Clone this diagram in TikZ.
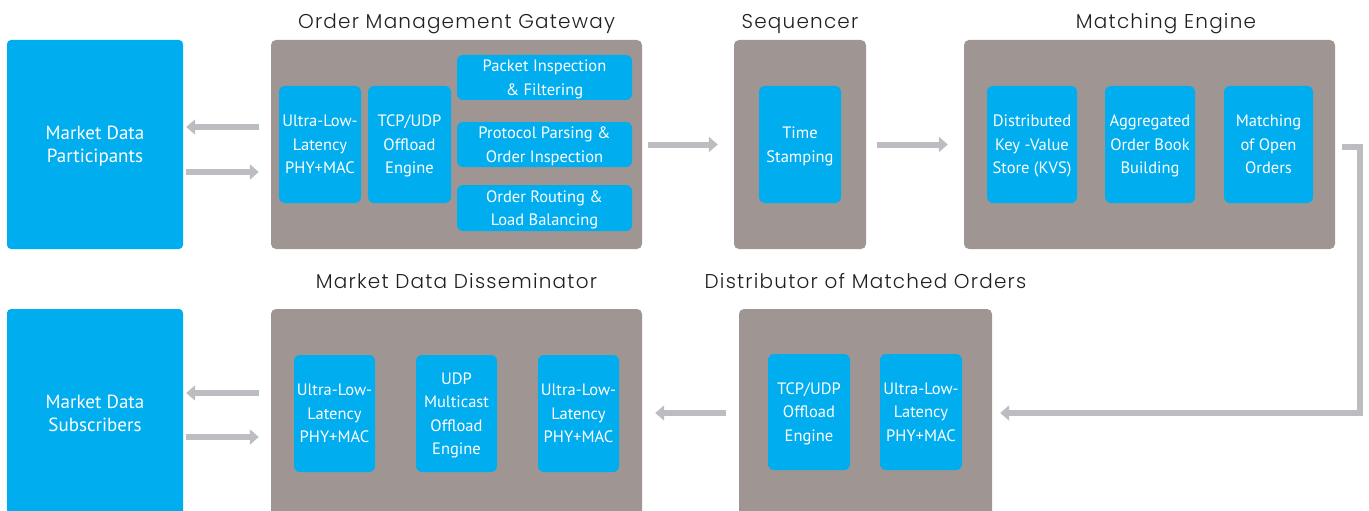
\documentclass[tikz,border=0pt]{standalone}
\usepackage{fontspec}
\usepackage{tikz}
\usetikzlibrary{arrows.meta,positioning}
\newfontfamily\labelfont{PT Sans}
\newfontfamily\headfont{Poppins Light}[LetterSpace=6]
\definecolor{mdblue}{HTML}{00ADEE}
\definecolor{stagegray}{HTML}{9F9693}
\definecolor{flowgray}{HTML}{BCBDC1}
\definecolor{headtext}{HTML}{231F20}

\begin{document}
\begin{tikzpicture}[x=1pt,y=-1pt,
        stage/.style={fill=stagegray,rounded corners=5pt,inner sep=0pt},
        party/.style={fill=mdblue,rounded corners=4pt,text=white,align=center,inner sep=0pt,
            minimum width=176pt,text depth=-8pt,font=\labelfont\fontsize{19}{23}\selectfont},
        unit/.style={fill=mdblue,rounded corners=6pt,text=white,align=center,inner sep=0pt,
            minimum width=82pt,minimum height=117pt,text depth=-7pt,font=\labelfont\fontsize{16.5}{23.5}\selectfont},
        bar/.style={unit,minimum width=175pt,minimum height=45pt},
        head/.style={anchor=base,text=headtext,font=\headfont\fontsize{20}{24}\selectfont},
        flow/.style={draw=flowgray,line width=6pt,-{Triangle[length=9pt,width=15pt]}}]
        \useasboundingbox (0,0) rectangle (1369,511);
        \clip (0,0) rectangle (1369,511);

        \node[party,minimum height=209pt] (part) at (95,144.5) {Market Data\\Participants};
        \node[party,minimum height=208pt] (subs) at (95,413) {Market Data\\Subscribers};

        \node[stage,minimum width=371pt,minimum height=209pt] (omg) at (456.5,144.5) {};
        \node[stage,minimum width=132pt,minimum height=209pt] (seq) at (800,144.5) {};
        \node[stage,minimum width=371pt,minimum height=209pt] (me) at (1149.5,144.5) {};
        \node[stage,minimum width=371pt,minimum height=208pt] (diss) at (456.5,413) {};
        \node[stage,minimum width=253pt,minimum height=208pt] (dist) at (865.5,413) {};

        \node[head] (omgtitle) at ([yshift=11pt]omg.north) {Order Management Gateway};
        \node[head] (seqtitle) at ([yshift=11pt]seq.north) {Sequencer};
        \node[head] (metitle) at ([xshift=16.5pt,yshift=11pt]me.north) {Matching Engine};
        \node[head] (disstitle) at ([yshift=20pt]diss.north) {Market Data Disseminator};
        \node[head] (disttitle) at ([yshift=20pt]dist.north) {Distributor of Matched Orders};

        \node[unit] (ull1) at (320,144.5) {Ultra-Low-\\Latency\\PHY+MAC};
        \node[unit,minimum width=83pt] (tcp1) at (409.5,144.5) {TCP/UDP\\Offload\\Engine};
        \node[bar] (pkt) at (544.5,77.5) {Packet Inspection\\\& Filtering};
        \node[bar] (prs) at (544.5,144.5) {Protocol Parsing \&\\Order Inspection};
        \node[bar,minimum height=46pt] (rte) at (544.5,208) {Order Routing \&\\Load Balancing};

        \node[unit] (tms) at (800,144.5) {Time\\Stamping};

        \node[unit,minimum width=90pt] (kvs) at (1032,144.5) {Distributed\\Key -Value\\Store (KVS)};
        \node[unit,minimum width=90pt] (aob) at (1150,144.5) {Aggregated\\Order Book\\Building};
        \node[unit,minimum width=89pt] (mop) at (1268.5,144.5) {Matching\\of Open\\Orders};

        \node[unit,minimum width=81pt] (ull2) at (334.5,413.5) {Ultra-Low-\\Latency\\PHY+MAC};
        \node[unit,minimum width=81pt] (udp) at (456.5,413.5) {UDP\\Multicast\\Offload\\Engine};
        \node[unit,minimum width=81pt] (ull3) at (578.5,413.5) {Ultra-Low-\\Latency\\PHY+MAC};

        \node[unit,minimum height=116pt] (tcp2) at (809,412) {TCP/UDP\\Offload\\Engine};
        \node[unit,minimum height=116pt] (ull4) at (921,412) {Ultra-Low-\\Latency\\PHY+MAC};

        \draw[flow,shorten <=12pt,shorten >=3pt] ([yshift=17.5pt]omg.west) -- ([yshift=17.5pt]part.east);
        \draw[flow,shorten <=3pt,shorten >=12pt] ([yshift=-27.5pt]part.east) -- ([yshift=-27.5pt]omg.west);
        \draw[flow,shorten <=6pt,shorten >=16pt] (omg.east) -- (seq.west);
        \draw[flow,shorten <=11pt,shorten >=16pt] (seq.east) -- (me.west);
        \draw[flow,shorten <=7pt,shorten >=8pt] ([yshift=-2.5pt]me.east) -- ++(25,0) |- (dist.east);
        \draw[flow,shorten <=13pt,shorten >=13pt] (dist.west) -- (diss.east);
        \draw[flow,shorten <=12pt,shorten >=3pt] ([yshift=20pt]diss.west) -- ([yshift=20pt]subs.east);
        \draw[flow,shorten <=3pt,shorten >=12pt] ([yshift=-24pt]subs.east) -- ([yshift=-24pt]diss.west);
    \end{tikzpicture}
\end{document}
